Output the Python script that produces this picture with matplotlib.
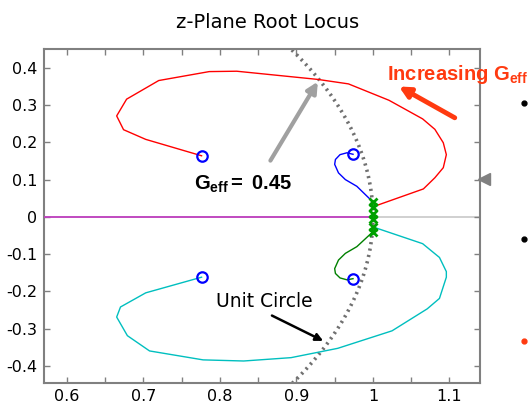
import numpy as np
import matplotlib
matplotlib.use("Agg")
import matplotlib.pyplot as plt
from matplotlib.ticker import MultipleLocator

plt.rcParams['font.family'] = ['DejaVu Sans']
plt.rcParams['axes.unicode_minus'] = False
plt.rcParams['mathtext.fontset'] = 'custom'
plt.rcParams['mathtext.rm'] = 'Liberation Sans'
plt.rcParams['mathtext.bf'] = 'Liberation Sans:bold'
plt.rcParams['mathtext.it'] = 'Liberation Sans:italic'

# ---- data ----
red_x = [1.000, 1.066, 1.081, 1.092, 1.096, 1.092, 1.081, 1.065, 1.021, 0.968, 0.928,
         0.822, 0.786, 0.720, 0.678, 0.665, 0.674, 0.703, 0.776]
red_y = [0.027, 0.075, 0.105, 0.132, 0.167, 0.199, 0.235, 0.263, 0.313, 0.357, 0.369,
         0.391, 0.390, 0.366, 0.316, 0.271, 0.234, 0.208, 0.164]
cyan_x = [1.000, 1.065, 1.087, 1.096, 1.096, 1.087, 1.071, 1.025, 0.954, 0.893, 0.831,
          0.778, 0.708, 0.679, 0.665, 0.670, 0.703, 0.776]
cyan_y = [-0.027, -0.072, -0.109, -0.147, -0.162, -0.219, -0.247, -0.306, -0.353, -0.378,
          -0.387, -0.384, -0.360, -0.319, -0.269, -0.242, -0.204, -0.162]
blue_x = [1.000, 0.979, 0.964, 0.955, 0.950, 0.951, 0.957, 0.966, 0.974]
blue_y = [0.040, 0.082, 0.100, 0.118, 0.141, 0.154, 0.167, 0.172, 0.168]
green_x = [1.000, 0.979, 0.964, 0.955, 0.950, 0.951, 0.957, 0.966, 0.974]
green_y = [-0.040, -0.080, -0.098, -0.116, -0.139, -0.152, -0.164, -0.169, -0.166]
real_axis_x = [0.57, 1.0]
pole_x = [1.0, 1.0, 1.0, 1.0, 1.0, 1.0]
pole_y = [0.040, 0.027, 0.007, -0.007, -0.027, -0.040]
zero_x = [0.776, 0.974, 0.776, 0.974]
zero_y = [0.164, 0.168, -0.162, -0.166]
xticks = [0.6, 0.7, 0.8, 0.9, 1.0, 1.1]
xticklabels = ['0.6', '0.7', '0.8', '0.9', '1', '1.1']
yticks = [0.4, 0.3, 0.2, 0.1, 0.0, -0.1, -0.2, -0.3, -0.4]
yticklabels = ['0.4', '0.3', '0.2', '0.1', '0', '-0.1', '-0.2', '-0.3', '-0.4']

ORANGE = '#ff3a10'
W, H = 530, 404
fig = plt.figure(figsize=(W / 100, H / 100), dpi=100)
ax = fig.add_axes([44 / W, 1 - 382.6 / H, (480 - 44) / W, (382.6 - 48.5) / H])
ax.set_xlim(0.57, 1.14)
ax.set_ylim(-0.445, 0.452)

# unit circle
th = np.linspace(0, 2 * np.pi, 2000)
ax.plot(np.cos(th), np.sin(th), linestyle=(0, (0.6, 1.2)), color='#707070', lw=2.6, zorder=2)

# real axis
ax.axhline(0, color='#c8c8c8', lw=1.2, zorder=1)
ax.plot(real_axis_x, [0, 0], color='#c040c0', lw=1.3, zorder=3)

ax.plot(red_x, red_y, color='#ff0000', lw=1.0, zorder=3)
ax.plot(cyan_x, cyan_y, color='#00bfbf', lw=1.0, zorder=3)
ax.plot(blue_x, blue_y, color='#0000ff', lw=1.0, zorder=3)
ax.plot(green_x, green_y, color='#008000', lw=1.0, zorder=3)
ax.plot(pole_x, pole_y, 'x', color='#00a000', ms=6, mew=2.0, zorder=4)
ax.plot(zero_x, zero_y, 'o', mfc='none', mec='#0000ff', ms=7.5, mew=1.6, zorder=4)

ax.set_xticks(xticks)
ax.set_xticklabels(xticklabels)
ax.set_yticks(yticks)
ax.set_yticklabels(yticklabels)
ax.xaxis.set_minor_locator(MultipleLocator(0.05))
ax.tick_params(which='both', direction='in', top=True, right=True, length=4,
               color='#808080', width=1, labelsize=11.5, labelcolor='black')
ax.tick_params(axis='x', pad=4.5)
ax.tick_params(axis='y', pad=5)
for s in ax.spines.values():
    s.set_color('#808080')
    s.set_linewidth(1.5)

fig.text(268 / W, 1 - 28 / H, 'z-Plane Root Locus', ha='center', va='baseline', fontsize=14)

# annotations
ax.annotate('', xy=(0.928, 0.363), xytext=(0.866, 0.151),
            arrowprops=dict(arrowstyle='-|>', lw=3, color='#a0a0a0', mutation_scale=16,
                            shrinkA=0, shrinkB=0))
ax.text(0.766, 0.073, r'$\mathbf{G_{eff}}\mathbf{=\ 0.45}$', fontsize=14.5, ha='left', va='baseline')
ax.annotate('', xy=(1.034, 0.350), xytext=(1.107, 0.266), annotation_clip=False,
            arrowprops=dict(arrowstyle='-|>', lw=3.5, color=ORANGE, mutation_scale=16,
                            shrinkA=0, shrinkB=0))
ax.text(1.018, 0.368, r'$\mathbf{Increasing\ G_{eff}}$', fontsize=14.5, color=ORANGE,
        ha='left', va='baseline', clip_on=False)
ax.text(0.795, -0.242, 'Unit Circle', fontsize=13.5, ha='left', va='baseline')
ax.annotate('', xy=(0.935, -0.333), xytext=(0.868, -0.265),
            arrowprops=dict(arrowstyle='-|>', lw=1.8, color='black', mutation_scale=11,
                            shrinkA=0, shrinkB=0))

# slide decorations outside the axes
fig.lines.append(matplotlib.lines.Line2D([484 / W], [1 - 179.3 / H], marker='<', ms=8,
                                          color='#808080', transform=fig.transFigure))
for (px, py, c) in [(524, 103.3, 'black'), (524, 239, 'black'), (524, 341, ORANGE)]:
    fig.lines.append(matplotlib.lines.Line2D([px / W], [1 - py / H], marker='o', ms=3.5,
                                              color=c, transform=fig.transFigure))

fig.savefig('out.png', dpi=100)
